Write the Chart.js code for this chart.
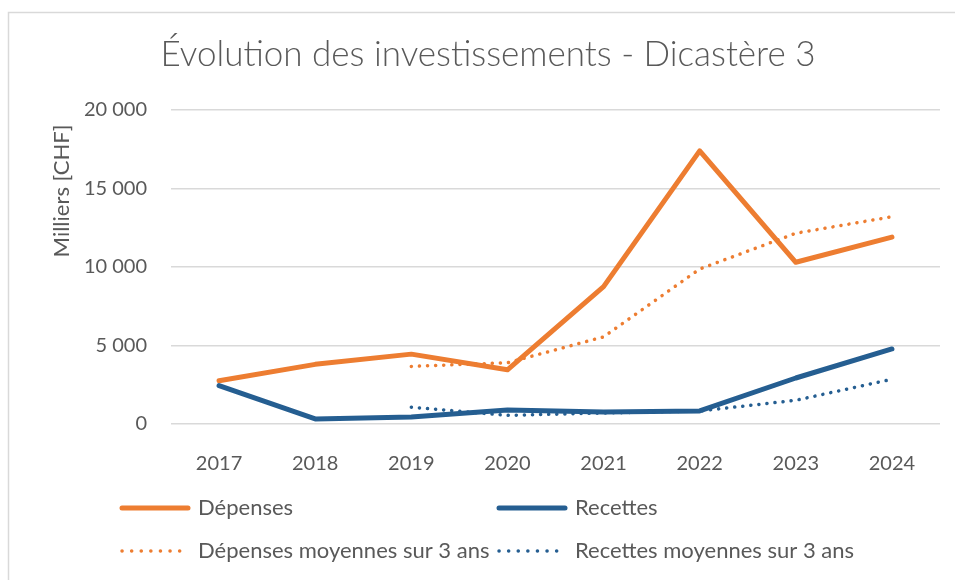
<!DOCTYPE html>
<html>
<head>
<meta charset="utf-8">
<script src="https://cdn.jsdelivr.net/npm/chart.js@4"></script>
<style>
  body { margin: 0; background: #fff; }
  #wrap { width: 955px; height: 580px; }
</style>
</head>
<body>
<div id="wrap"><canvas id="chart" width="955" height="580"></canvas></div>
<script>
// data (milliers de CHF)
const years = ['2017', '2018', '2019', '2020', '2021', '2022', '2023', '2024'];
const depenses = [2750, 3800, 4450, 3450, 8750, 17400, 10300, 11900];
const recettes = [2450, 320, 450, 890, 760, 830, 2930, 4780];
const depensesMoy = [null, null, 3670, 3900, 5550, 9870, 12150, 13200];
const recettesMoy = [null, null, 1070, 550, 700, 830, 1510, 2850];
const yTicks = [0, 5000, 10000, 15000, 20000];

const ORANGE = '#ED7D31';
const BLUE = '#255E91';
const TEXT = '#595959';
const GRID = '#D9D9D9';
const FONT = 'Lato, "Open Sans", sans-serif';

// frame, title, axis title and legend drawn by hand, Excel style
const decorPlugin = {
    id: 'decor',
    afterDraw(chart) {
        const ctx = chart.ctx;
        ctx.save();
        // chart frame
        ctx.strokeStyle = GRID;
        ctx.lineWidth = 1.5;
        ctx.strokeRect(8.5, 12.5, 1000, 1000);

        // title
        ctx.fillStyle = TEXT;
        ctx.font = '300 35px ' + FONT;
        ctx.textAlign = 'center';
        ctx.textBaseline = 'middle';
        ctx.fillText('Évolution des investissements - Dicastère 3', 488, 55);

        // y axis title
        ctx.save();
        ctx.translate(62, 191);
        ctx.rotate(-Math.PI / 2);
        ctx.font = '22px ' + FONT;
        ctx.fillText('Milliers [CHF]', 0, 0);
        ctx.restore();

        // legend, two columns
        const spots = [[120, 508], [497, 508], [120, 551], [497, 551]];
        chart.data.datasets.forEach((ds, i) => {
            const [x, y] = spots[i];
            ctx.beginPath();
            ctx.strokeStyle = ds.borderColor;
            ctx.lineWidth = ds.borderWidth;
            ctx.lineCap = 'round';
            ctx.setLineDash(ds.borderDash ? [0.1, 9.5] : []);
            ctx.moveTo(x + 2, y);
            ctx.lineTo(x + 68, y);
            ctx.stroke();
            ctx.setLineDash([]);
            ctx.fillStyle = TEXT;
            ctx.font = '22px ' + FONT;
            ctx.textAlign = 'left';
            ctx.fillText(ds.label, x + 78, y);
        });
        ctx.restore();
    }
};

const ctx = document.getElementById('chart').getContext('2d');
new Chart(ctx, {
    type: 'line',
    data: {
        labels: years,
        datasets: [
            { label: 'Dépenses', data: depenses, borderColor: ORANGE, borderWidth: 5, order: 4 },
            { label: 'Recettes', data: recettes, borderColor: BLUE, borderWidth: 5, order: 3 },
            { label: 'Dépenses moyennes sur 3 ans', data: depensesMoy, borderColor: ORANGE, borderWidth: 3.5, borderDash: [0.1, 8], order: 2 },
            { label: 'Recettes moyennes sur 3 ans', data: recettesMoy, borderColor: BLUE, borderWidth: 3.5, borderDash: [0.1, 8], order: 1 }
        ]
    },
    options: {
        responsive: false,
        animation: false,
        layout: { padding: { top: 110, right: 15, left: 0, bottom: 0 } },
        elements: {
            point: { radius: 0 },
            line: { tension: 0, borderCapStyle: 'round', borderJoinStyle: 'round', fill: false }
        },
        plugins: {
            legend: { display: false },
            title: { display: false },
            tooltip: { enabled: false }
        },
        scales: {
            x: {
                offset: true,
                grid: { display: false },
                border: { display: false },
                ticks: { color: TEXT, font: { family: FONT, size: 20 }, padding: 20 },
                afterFit: scale => { scale.height = 156; }
            },
            y: {
                min: 0,
                max: 20000,
                afterBuildTicks: scale => { scale.ticks = yTicks.map(v => ({ value: v })); },
                grid: { color: GRID, lineWidth: 1.5, drawTicks: false },
                border: { display: false },
                ticks: {
                    color: TEXT,
                    font: { family: FONT, size: 20 },
                    padding: 24,
                    callback: v => v.toLocaleString('fr-CH').replace(/[\u2019'\u202f\u00a0]/g, ' ')
                },
                afterFit: scale => { scale.width = 171; }
            }
        }
    },
    plugins: [decorPlugin]
});
</script>
</body>
</html>
